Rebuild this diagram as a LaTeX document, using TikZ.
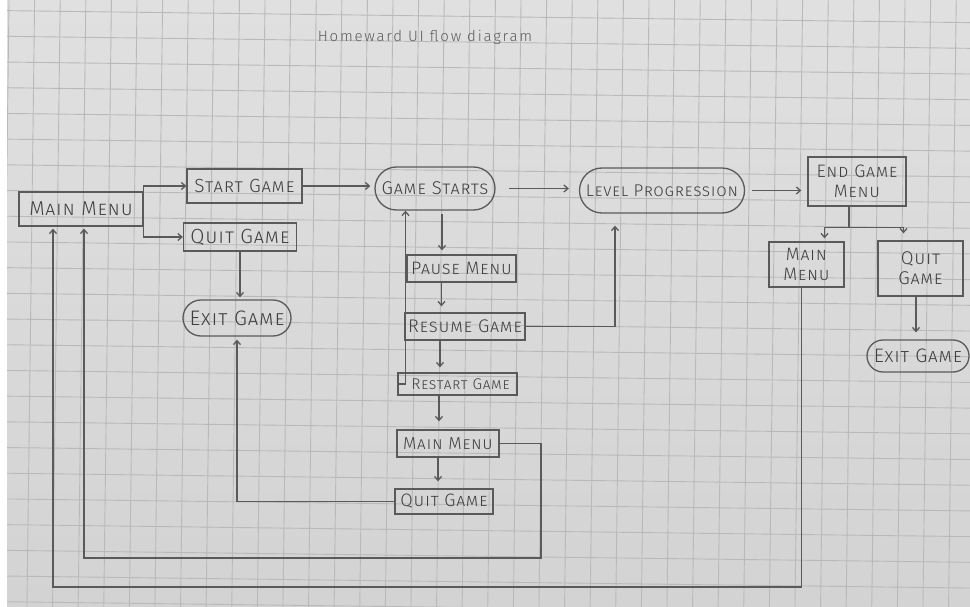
\documentclass[tikz,border=0pt]{standalone}
\usepackage{fontspec}
\newfontfamily\hand{Fira Sans}[UprightFont=* Light, LetterSpace=4]
\newfontfamily\titlehand{Fira Sans}[UprightFont=* Light, LetterSpace=12]
\usetikzlibrary{arrows.meta,calc,shapes.misc}

\definecolor{paperA}{HTML}{E0E0E0}
\definecolor{paperB}{HTML}{D3D3D3}
\definecolor{gridc}{HTML}{B9B9B9}
\definecolor{pencil}{HTML}{5A5A5A}
\definecolor{ink}{HTML}{404040}

\tikzset{
  gridline/.style={draw=gridc, line width=0.9pt},
  line/.style={draw=pencil, line width=1.3pt},
  arr/.style={line, -{Straight Barb[length=4pt,width=7pt]}},
  fs/.style={font=\hand\scshape\fontsize{#1}{20}\selectfont},
  box/.style={draw=pencil, line width=1.3pt, rectangle, inner sep=0pt,
    align=center, text=ink, fs=18},
  oval/.style={box, rounded rectangle},
  sz/.style 2 args={minimum width=#1, minimum height=#2},
}

\begin{document}
\begin{tikzpicture}[x=1pt,y=-1pt]
% sheet of squared paper
\useasboundingbox (0,0) rectangle (970,607);
\shade[top color=paperA, bottom color=paperB] (0,0) rectangle (970,607);
\foreach \k in {-1,...,39}
  \draw[gridline] ({9.1+25.6*\k},-5) -- ({9.1+25.6*\k-7.8},612);
\foreach \k in {-1,...,24}
  \draw[gridline] (-5,{10.5+25.7*\k}) -- (975,{10.5+25.7*\k+12.2});
\fill[white] (0,0) rectangle (7,607);

% heading
\node[text=ink!85, font=\titlehand\fontsize{15}{17}\selectfont] (title) at (425,37) {Homeward UI flow diagram};

% left column
\node[box, sz={124}{34}, fs=20] (mm) at (81,209) {Main Menu};
\node[box, sz={115}{34}, fs=19] (sg) at (244.5,186) {Start Game};
\node[box, sz={113}{28}, fs=20.5] (qg) at (240,237) {Quit Game};
\node[oval, sz={108}{36}, fs=21] (eg) at (237,318) {Exit Game};

% main flow
\node[oval, sz={120}{43}, fs=18.5] (gs) at (435,188.5) {Game Starts};
\node[oval, sz={165}{45}, fs=17] (lp) at (662,190.5) {Level Progression};
\node[box, sz={98}{49}, fs=18] (egm) at (857,181.5) {End Game\\Menu};
\node[box, sz={75}{45}, fs=18] (rmm) at (806.5,264.5) {Main\\Menu};
\node[box, sz={85}{55}, fs=18.5] (rqg) at (920.5,268.5) {Quit\\Game};
\node[oval, sz={102}{32}, fs=19.5] (reg) at (918,356) {Exit Game};

% pause menu column
\node[box, sz={109}{27}, fs=18] (pm) at (461.5,268.5) {Pause Menu};
\node[box, sz={120}{27}, fs=18.3] (rg) at (465,326.5) {Resume Game};
\node[box, sz={119}{22}, fs=15.5] (rs) at (457.5,384) {\hspace*{6pt}Restart Game};
\node[box, sz={102}{27}, fs=17.3] (mmid) at (448,443.5) {Main Menu};
\node[box, sz={98}{25}, fs=18] (qmid) at (444,501.5) {Quit Game};

% bend points of the long return lines
\coordinate (ib) at (541,558);
\coordinate (lb) at (53,587);

% connectors
\draw[arr] (mm.east) |- (sg.west);
\draw[arr] (mm.east) |- (qg.west);
\draw[arr, shorten >=2pt] (qg.south) -- (qg.south |- eg.north);
\draw[arr, shorten >=4pt] (sg.east) -- (sg.east -| gs.west);
\draw[arr, shorten <=13pt, shorten >=10pt] (gs.east) -- (gs.east -| lp.west);
\draw[arr, shorten <=7pt, shorten >=6pt] (lp.east) -- (lp.east -| egm.west);

\draw[line] ([xshift=-8pt]egm.south) -- ++(0,21) coordinate (ej);
\draw[arr, shorten >=3pt] (ej) -| ([xshift=18pt]rmm.north);
\draw[arr, shorten >=7pt] (ej) -| ([xshift=-17pt]rqg.north);
\draw[arr, shorten >=7pt] ([xshift=-4.5pt]rqg.south) -- ([xshift=-4.5pt]rqg.south |- reg.north);

\draw[arr, shorten <=3pt, shorten >=4pt] ([xshift=7pt]gs.south) -- ([xshift=7pt]gs.south |- pm.north);
\draw[arr, shorten >=6pt] ([xshift=-20pt]pm.south) -- ([xshift=-20pt]pm.south |- rg.north);
\draw[arr, shorten >=5pt] ([xshift=-25pt]rg.south) -- ([xshift=-25pt]rg.south |- rs.north);
\draw[arr, shorten >=8pt] ([xshift=-18.5pt]rs.south) -- ([xshift=-18.5pt]rs.south |- mmid.north);
\draw[arr, shorten >=7pt] ([xshift=-10pt]mmid.south) -- ([xshift=-10pt]mmid.south |- qmid.north);

\draw[arr, shorten >=12pt] (rg.east) -| ($(lp.south west)+(13,0)$);
\draw[arr] (rs.west) -| ($(gs.south west)+(9,0)$);
\draw[arr, shorten >=3pt] (qmid.west) -| (eg.south);
\draw[arr, shorten >=2pt] (mmid.east) -| (ib) -| ([xshift=3pt]mm.south);
\draw[arr, shorten >=2pt] ([xshift=-5pt]rmm.south) |- (lb) -- ([xshift=-28pt]mm.south);
\end{tikzpicture}
\end{document}
